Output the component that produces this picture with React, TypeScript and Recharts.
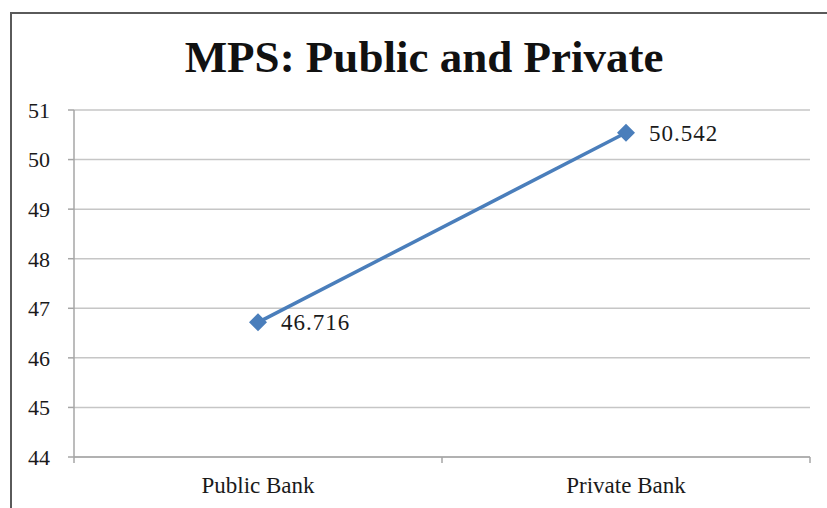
import { LineChart, Line, XAxis, YAxis, CartesianGrid, LabelList } from "recharts";

const categories = ["Public Bank", "Private Bank"];
const mpsValues = [46.716, 50.542];
const yTicks = [44, 45, 46, 47, 48, 49, 50, 51];

const FONT = "'Liberation Serif', 'Times New Roman', serif";
const BLUE = "#4a7ebb";

// x is numeric so the axis can have ticks at the band edges and labels in the middle
const data = categories.map((name, i) => ({ name, pos: i + 0.5, value: mpsValues[i] }));
const xTicks = [0, 0.5, 1, 1.5, 2];

const XTick = (props: any) => {
  const { x, y, payload } = props;
  const v = payload.value;
  if (Number.isInteger(v)) {
    return <line x1={x} x2={x} y1={y - 6} y2={y} stroke="#a6a6a6" strokeWidth={1.5} />;
  }
  return (
    <text x={x} y={y + 30} textAnchor="middle" fontFamily={FONT} fontSize={23} fill="#1a1a1a">
      {categories[Math.floor(v)]}
    </text>
  );
};

const Diamond = (props: any) => {
  const { cx, cy } = props;
  if (cx == null || cy == null) return null;
  const r = 9;
  return (
    <polygon
      points={`${cx},${cy - r} ${cx + r},${cy} ${cx},${cy + r} ${cx - r},${cy}`}
      fill={BLUE}
    />
  );
};

const ValueLabel = (props: any) => {
  const { x, y, value } = props;
  return (
    <text x={x + 23} y={y} dy="0.35em" fontFamily={FONT} fontSize={23} letterSpacing={1} fill="#1a1a1a">
      {value}
    </text>
  );
};

export default function App() {
  return (
    <div style={{ position: "absolute", left: 0, top: 0, width: 827, height: 508, overflow: "hidden", background: "#fff" }}>
      <div
        style={{
          position: "absolute",
          left: 10,
          top: 12,
          width: 840,
          height: 520,
          borderLeft: "2px solid #5a5a5a",
          borderTop: "2px solid #5a5a5a",
        }}
      />
      <svg width={827} height={100} style={{ position: "absolute", left: 0, top: 0 }}>
        <text x={424} y={72} textAnchor="middle" fontFamily={FONT} fontWeight="bold" fontSize={45} fill="#111">
          MPS: Public and Private
        </text>
      </svg>
      <div style={{ position: "absolute", left: 0, top: 0 }}>
        <LineChart width={827} height={508} data={data} margin={{ top: 110, right: 17, bottom: 0, left: 24 }}>
          <CartesianGrid vertical={false} stroke="#c6c6c6" strokeWidth={1.5} />
          <XAxis
            dataKey="pos"
            type="number"
            domain={[0, 2]}
            ticks={xTicks}
            height={51}
            tickLine={false}
            tickSize={6}
            tickMargin={0}
            axisLine={{ stroke: "#a6a6a6", strokeWidth: 1.5 }}
            tick={<XTick />}
            interval={0}
          />
          <YAxis
            type="number"
            domain={[44, 51]}
            ticks={yTicks}
            width={50}
            tickSize={6}
            tickMargin={18}
            axisLine={{ stroke: "#a6a6a6", strokeWidth: 1.5 }}
            tickLine={{ stroke: "#a6a6a6", strokeWidth: 1.5 }}
            tick={{ fontFamily: FONT, fontSize: 22, fill: "#1a1a1a" }}
            interval={0}
          />
          <Line
            type="linear"
            dataKey="value"
            stroke={BLUE}
            strokeWidth={3.5}
            dot={<Diamond />}
            activeDot={false}
            isAnimationActive={false}
          >
            <LabelList dataKey="value" content={<ValueLabel />} />
          </Line>
        </LineChart>
      </div>
    </div>
  );
}
